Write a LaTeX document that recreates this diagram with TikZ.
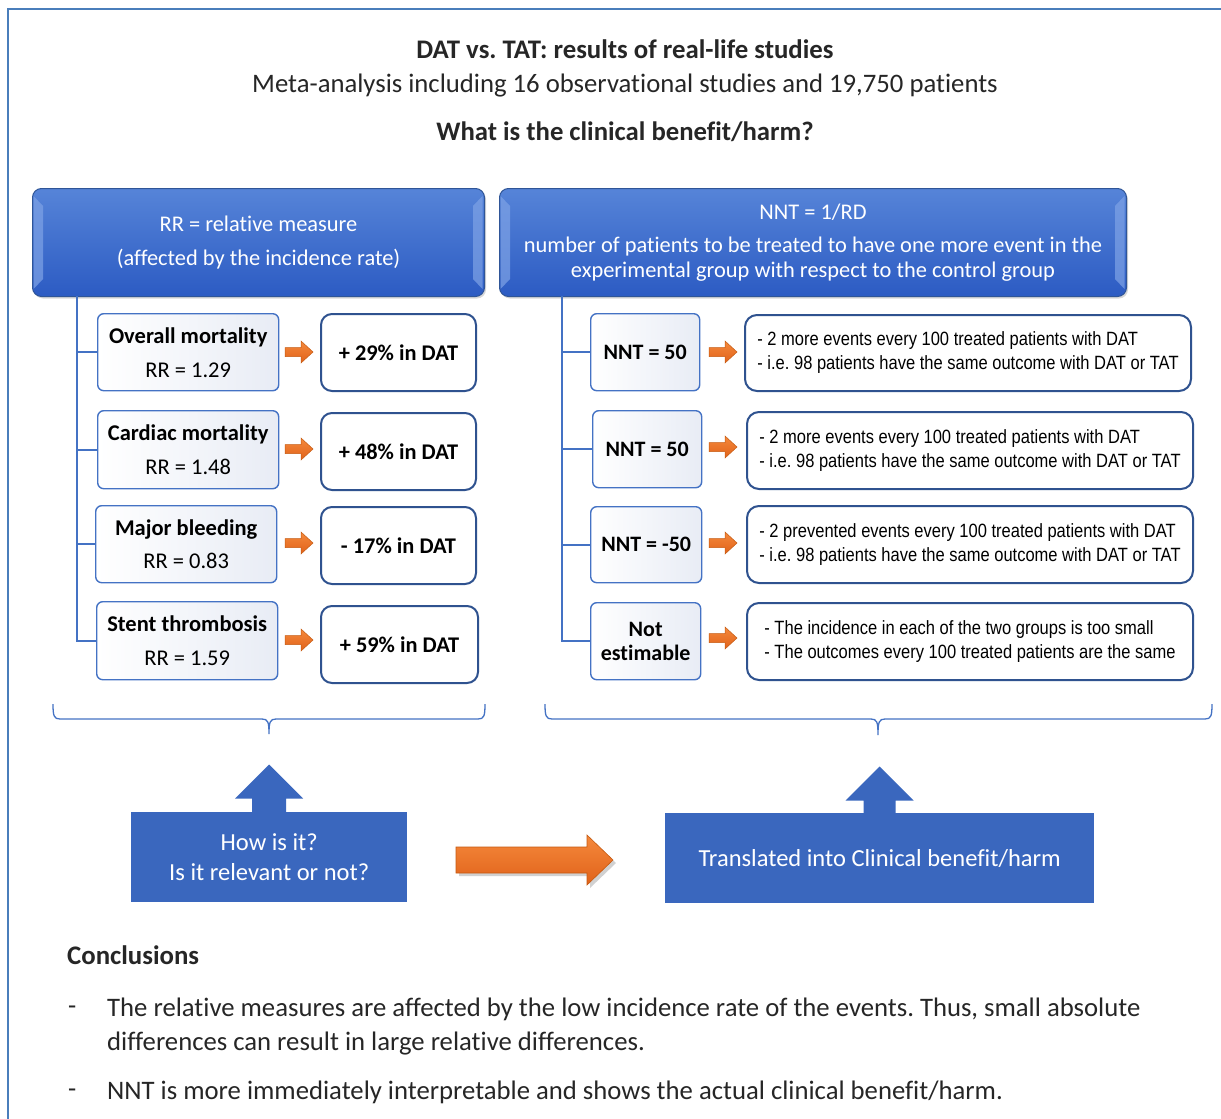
\documentclass[tikz,border=0pt]{standalone}
\usepackage{fontspec}
\setmainfont[Ligatures=NoCommon]{Carlito}
\newfontfamily\narrowfont[FakeStretch=0.86]{Liberation Sans}
\usetikzlibrary{shadows}
\frenchspacing
\definecolor{frameblue}{HTML}{4A7EBB}
\definecolor{hdrtop}{HTML}{5684D8}
\definecolor{hdrbot}{HTML}{2C5BC3}
\definecolor{hdredge}{HTML}{2F5597}
\definecolor{bevel}{HTML}{7FA3E6}
\definecolor{lineblue}{HTML}{4472C4}
\definecolor{darkblue}{HTML}{2F528F}
\definecolor{blockblue}{HTML}{3A67BE}
\definecolor{lblbg}{HTML}{E8ECF5}
\definecolor{orangeA}{HTML}{F5893C}
\definecolor{orangeB}{HTML}{E0621A}
\definecolor{orangeedge}{HTML}{C55A11}
\definecolor{txt}{HTML}{262626}
\tikzset{
  hdr/.style={draw=hdredge, line width=1pt, rounded corners=9pt, top color=hdrtop, bottom color=hdrbot,
    text=white, align=center, anchor=north west, inner sep=0pt,
    drop shadow={opacity=0.3, shadow xshift=1.5pt, shadow yshift=-2pt}},
  lbl/.style={draw=lineblue, line width=1.4pt, rounded corners=6pt, left color=white, right color=lblbg,
    align=center, anchor=north west, inner sep=0pt, text=black},
  res/.style={draw=darkblue, line width=2pt, rounded corners=11pt, fill=white, anchor=north west,
    inner sep=0pt, text=black, font=\bfseries\fontsize{22.4}{26}\selectfont},
  desc/.style={draw=darkblue, line width=2pt, rounded corners=12pt, fill=white, anchor=north west,
    align=left, inner sep=0pt, text=black, font=\narrowfont\fontsize{19.2}{24}\selectfont},
  blk/.style={fill=blockblue, anchor=north west, inner sep=0pt, text=white, align=center,
    font=\fontsize{24.5}{30}\selectfont},
  tree/.style={draw=lineblue, line width=2.2pt},
  bracestyle/.style={draw=lineblue, line width=1.3pt},
  sarrow/.pic={\draw[orangeedge, line width=0.5pt, top color=orangeA, bottom color=orangeB]
    (-14,-4.5) -- (2,-4.5) -- (2,-11) -- (14,0) -- (2,11) -- (2,4.5) -- (-14,4.5) -- cycle;},
  ttl/.style={text=txt, inner sep=0pt},
}
\begin{document}
\begin{tikzpicture}[x=1pt,y=-1pt]
\useasboundingbox (0,0) rectangle (1221,1119);
\fill[white] (0,0) rectangle (1221,1119);
% frame
\draw[frameblue, line width=1.8pt] (1221,9) -- (8,9) -- (8,1119);
% titles
\node[ttl, font=\bfseries\fontsize{26.8}{30}\selectfont] (t1) at (625,49) {DAT vs. TAT: results of real-life studies};
\node[ttl, font=\fontsize{26.7}{30}\selectfont] (t2) at (625,86) {Meta-analysis including 16 observational studies and 19,750 patients};
\node[ttl, font=\bfseries\fontsize{26.7}{30}\selectfont] (t3) at (625,132) {What is the clinical benefit/harm?};
% headers
\node[hdr, minimum width=452pt, minimum height=108pt, font=\fontsize{22.4}{34}\selectfont] (hL) at (32,188)
  {RR = relative measure\\(affected by the incidence rate)};
\node[hdr, minimum width=627pt, minimum height=108pt, font=\fontsize{22.4}{25}\selectfont] (hR) at (499,188)
  {NNT = 1/RD\\[8pt]number of patients to be treated to have one more event in the\\experimental group with respect to the control group};
% bevels
\fill[bevel, opacity=0.7] (33.5,196) -- (43,206) -- (43,279) -- (33.5,289) -- cycle;
\fill[bevel, opacity=0.7] (482.5,196) -- (473,206) -- (473,279) -- (482.5,289) -- cycle;
\fill[bevel, opacity=0.7] (500.5,196) -- (510,206) -- (510,279) -- (500.5,289) -- cycle;
\fill[bevel, opacity=0.7] (1124.5,196) -- (1115,206) -- (1115,279) -- (1124.5,289) -- cycle;
% left label boxes
\tikzset{lblfont/.style={font=\fontsize{22.5}{34}\selectfont}}
\node[lbl, lblfont, minimum width=181pt, minimum height=77pt] (lb1) at (97,313)
  {\textbf{Overall mortality}\\RR = 1.29};
\node[lbl, lblfont, minimum width=181pt, minimum height=78pt] (lb2) at (97,410)
  {\textbf{Cardiac mortality}\\RR = 1.48};
\node[lbl, font=\fontsize{22.5}{33}\selectfont, minimum width=181pt, minimum height=77pt] (lb3) at (95,505)
  {\textbf{Major bleeding}\\RR = 0.83};
\node[lbl, lblfont, minimum width=181pt, minimum height=78pt] (lb4) at (96,601)
  {\textbf{Stent thrombosis}\\RR = 1.59};
% results
\node[res, minimum width=155pt, minimum height=77pt] (rs1) at (320,313) {+ 29\% in DAT};
\node[res, minimum width=155pt, minimum height=77pt] (rs2) at (320,412) {+ 48\% in DAT};
\node[res, minimum width=155pt, minimum height=77pt] (rs3) at (320,506) {- 17\% in DAT};
\node[res, minimum width=157pt, minimum height=77pt] (rs4) at (320,605) {+ 59\% in DAT};
% NNT boxes
\tikzset{nntfont/.style={font=\bfseries\fontsize{22}{24}\selectfont}}
\node[lbl, nntfont, minimum width=109pt, minimum height=77pt] (nn1) at (590,313) {NNT = 50};
\node[lbl, nntfont, minimum width=109pt, minimum height=77pt] (nn2) at (592,410) {NNT = 50};
\node[lbl, nntfont, minimum width=111pt, minimum height=76pt] (nn3) at (590,506) {NNT = -50};
\node[lbl, nntfont, minimum width=110pt, minimum height=77pt] (nn4) at (590,602) {Not\\estimable};
% descriptions
\node[desc, minimum width=446pt, minimum height=76pt] (d1) at (744,314)
  {- 2 more events every 100 treated patients with DAT\\- i.e. 98 patients have the same outcome with DAT or TAT};
\node[desc, minimum width=446pt, minimum height=77pt] (d2) at (746,411)
  {- 2 more events every 100 treated patients with DAT\\- i.e. 98 patients have the same outcome with DAT or TAT};
\node[desc, minimum width=446pt, minimum height=77pt] (d3) at (746,505)
  {- 2 prevented events every 100 treated patients with DAT\\- i.e. 98 patients have the same outcome with DAT or TAT};
\node[desc, minimum width=446pt, minimum height=77pt] (d4) at (746,602)
  {- The incidence in each of the two groups is too small\\- The outcomes every 100 treated patients are the same};
% trees
\coordinate (tl) at (77,296);
\coordinate (tr) at (562,296);
\draw[tree] (tl) |- (lb4.west);
\draw[tree] (lb1.west -| tl) -- (lb1.west);
\draw[tree] (lb2.west -| tl) -- (lb2.west);
\draw[tree] (lb3.west -| tl) -- (lb3.west);
\draw[tree] (tr) |- (nn4.west);
\draw[tree] (nn1.west -| tr) -- (nn1.west);
\draw[tree] (nn2.west -| tr) -- (nn2.west);
\draw[tree] (nn3.west -| tr) -- (nn3.west);
% small arrows
\pic at (299,352) {sarrow};
\pic at (299,449) {sarrow};
\pic at (299,543) {sarrow};
\pic at (299,640) {sarrow};
\pic at (723,352) {sarrow};
\pic at (723,447) {sarrow};
\pic at (723,543) {sarrow};
\pic at (723,638) {sarrow};
% braces
\draw[bracestyle] (53,704) .. controls (53,716) and (54,719) .. (60,719) -- (262,719)
  .. controls (268,719) and (269,722) .. (269,734)
  .. controls (269,722) and (270,719) .. (276,719) -- (478,719)
  .. controls (484,719) and (485,716) .. (485,704);
\draw[bracestyle] (545,704) .. controls (545,716) and (546,719) .. (552,719) -- (871,719)
  .. controls (877,719) and (878,722) .. (878,735)
  .. controls (878,722) and (879,719) .. (885,719) -- (1205,719)
  .. controls (1211,719) and (1212,716) .. (1212,704);
% bottom blocks
\node[blk, minimum width=276pt, minimum height=90pt] (bL) at (131,812) {How is it?\\Is it relevant or not?};
\node[blk, minimum width=429pt, minimum height=90pt] (bR) at (665,813) {Translated into Clinical benefit/harm};
\fill[blockblue] ([xshift=-17pt,yshift=-0.5pt]bL.north) -- ++(0,-14) -- ++(-17,0) -- ++(34,-34) -- ++(34,34) -- ++(-17,0) -- ++(0,14) -- cycle;
\fill[blockblue] ([xshift=-16pt,yshift=-0.5pt]bR.north) -- ++(0,-13) -- ++(-18,0) -- ++(34,-34) -- ++(34,34) -- ++(-18,0) -- ++(0,13) -- cycle;
% big orange arrow
\fill[black, opacity=0.18] (459,850) -- (590,850) -- (590,838) -- (616,863) -- (590,888) -- (590,876) -- (459,876) -- cycle;
\draw[orangeedge, line width=0.6pt, top color=orangeA, bottom color=orangeB]
  (456,847) -- (587,847) -- (587,835) -- (613,860) -- (587,885) -- (587,873) -- (456,873) -- cycle;
% conclusions
\node[ttl, anchor=west, font=\bfseries\fontsize{26.8}{30}\selectfont] (cc) at (67,955) {Conclusions};
\node[ttl, anchor=west, font=\fontsize{26.7}{30}\selectfont] (b1) at (68,1010) {-};
\node[ttl, anchor=north west, align=left, font=\fontsize{26.7}{34}\selectfont] (c1) at (107,998)
  {The relative measures are affected by the low incidence rate of the events. Thus, small absolute\\differences can result in large relative differences.};
\node[ttl, anchor=west, font=\fontsize{26.7}{30}\selectfont] (b2) at (68,1093) {-};
\node[ttl, anchor=west, font=\fontsize{26.7}{30}\selectfont] (c2) at (107,1092) {NNT is more immediately interpretable and shows the actual clinical benefit/harm.};
\end{tikzpicture}
\end{document}
